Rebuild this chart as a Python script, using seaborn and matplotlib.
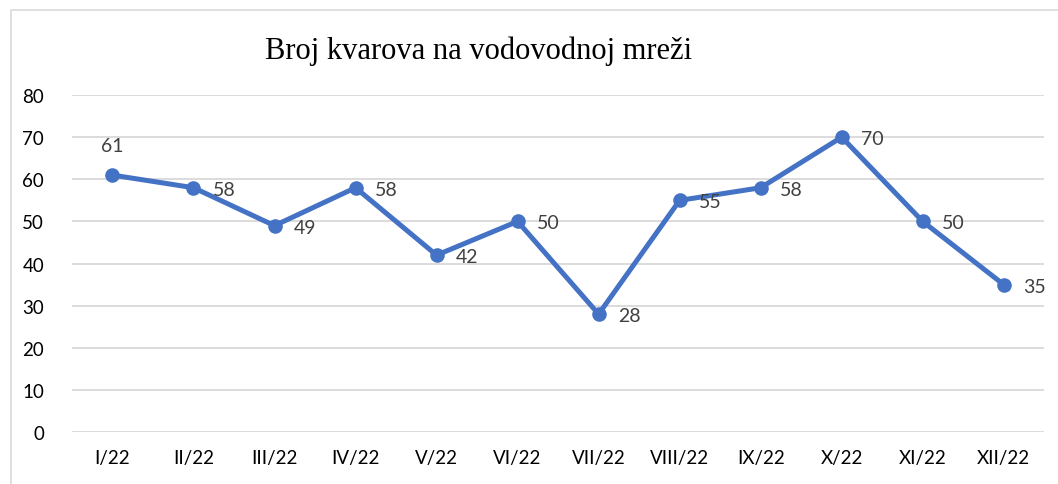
import numpy as np
import pandas as pd
import seaborn as sns
import matplotlib.pyplot as plt
from matplotlib.patches import Rectangle

# chart data
months = ["I/22", "II/22", "III/22", "IV/22", "V/22", "VI/22",
          "VII/22", "VIII/22", "IX/22", "X/22", "XI/22", "XII/22"]
faults = [61, 58, 49, 58, 42, 50, 28, 55, 58, 70, 50, 35]
y_ticks = [0, 10, 20, 30, 40, 50, 60, 70, 80]

df = pd.DataFrame({"month": months, "faults": faults})

sns.set_theme(style="white")
plt.rcParams['font.family'] = ['Lato', 'DejaVu Sans']

fig = plt.figure(figsize=(10.58, 4.85), dpi=100)
ax = fig.add_axes([0.068, 0.107, 0.919, 0.695])

blue = "#4472C4"
sns.lineplot(data=df, x="month", y="faults", ax=ax, color=blue, linewidth=3.6,
             marker="o", markersize=10.5, markeredgewidth=0, sort=False)

# data labels
for i, v in enumerate(faults):
    if i == 0:
        ax.annotate(str(v), (i, v), xytext=(0, 15), textcoords="offset points",
                    ha="center", va="bottom", fontsize=14, color="#404040")
    else:
        ax.annotate(str(v), (i, v), xytext=(14, -1), textcoords="offset points",
                    ha="left", va="center", fontsize=14, color="#404040")

ax.set_ylim(0, 80)
ax.set_xlim(-0.5, len(months) - 0.5)
ax.set_yticks(y_ticks)
ax.yaxis.grid(True, color="#D9D9D9", linewidth=1.3)
ax.set_axisbelow(True)
for s in ax.spines.values():
    s.set_visible(False)
ax.set_xlabel("")
ax.set_ylabel("")
ax.tick_params(axis="both", length=0, labelsize=13.5, labelcolor="#000000")
ax.tick_params(axis="x", pad=12)
ax.tick_params(axis="y", pad=20)

fig.text(0.452, 0.895, "Broj kvarova na vodovodnoj mreži", ha="center", va="center",
         fontsize=22, family=["Liberation Serif", "DejaVu Serif"], color="#000000")

# chart frame (cropped at right and bottom)
fig.patches.append(Rectangle((11 / 1058, -0.1), 1.2, 1.1 - 11 / 485,
                             transform=fig.transFigure, fill=False,
                             edgecolor="#D9D9D9", linewidth=1.2))

fig.savefig("out.png", dpi=100)
